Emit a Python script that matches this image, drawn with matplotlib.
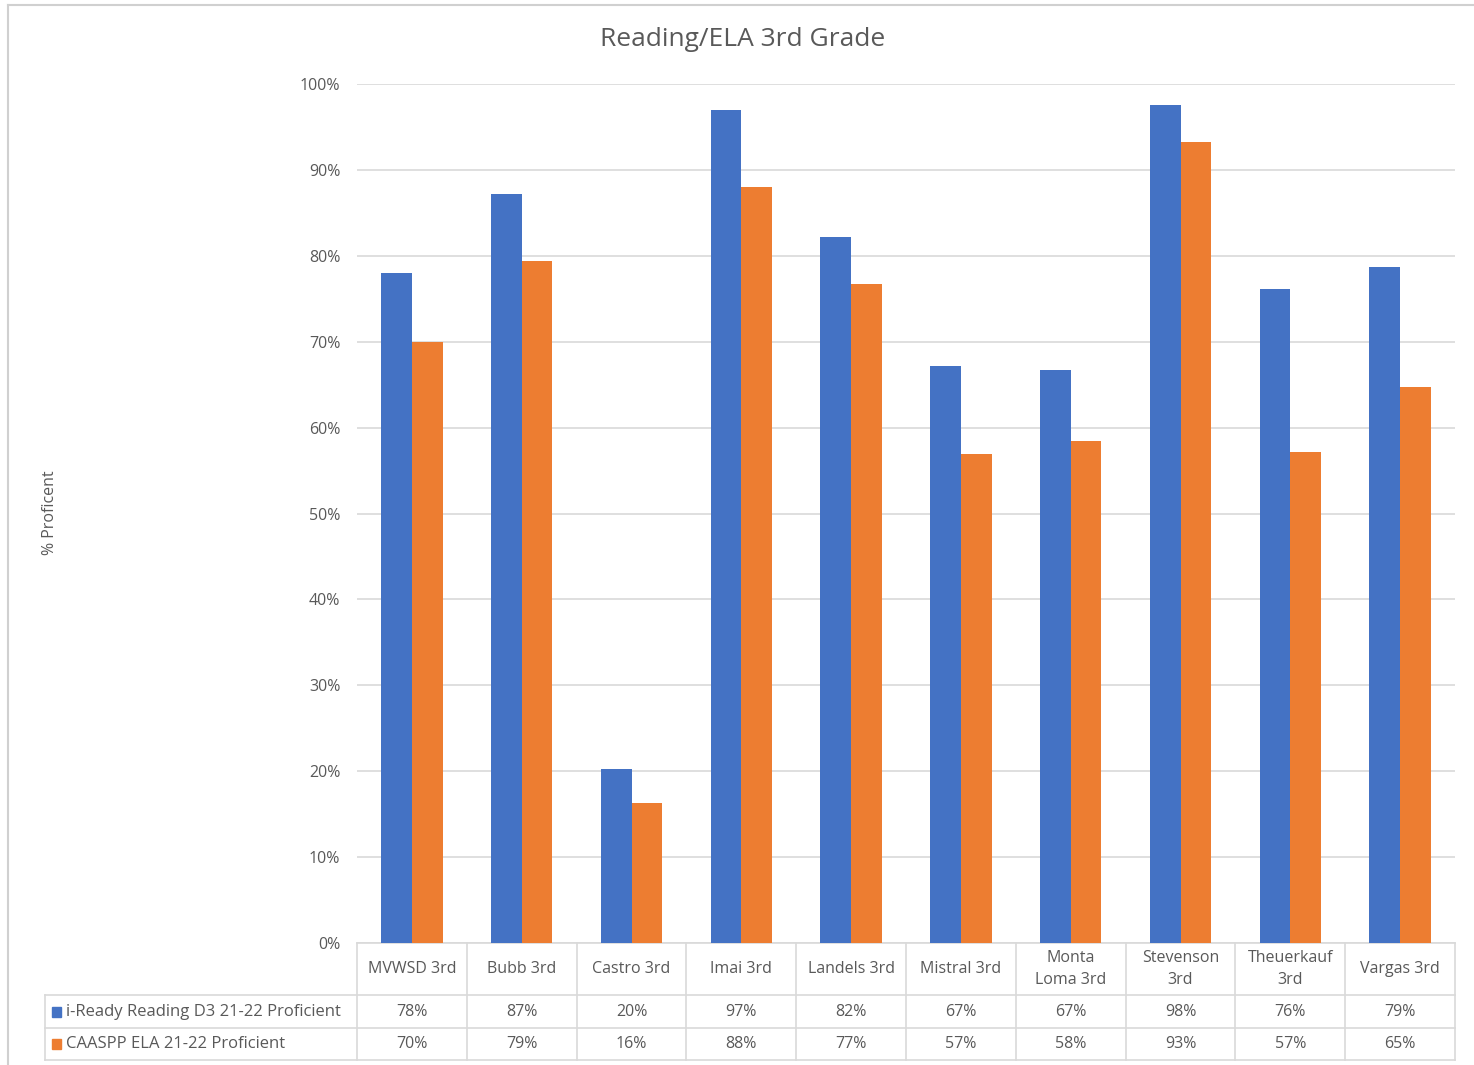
import numpy as np
import matplotlib.pyplot as plt
from matplotlib.transforms import blended_transform_factory
from matplotlib.patches import Rectangle

plt.rcParams['font.family'] = ['Open Sans', 'DejaVu Sans']

schools = ['MVWSD 3rd', 'Bubb 3rd', 'Castro 3rd', 'Imai 3rd', 'Landels 3rd',
           'Mistral 3rd', 'Monta\nLoma 3rd', 'Stevenson\n3rd', 'Theuerkauf\n3rd', 'Vargas 3rd']
iready = [78.0, 87.2, 20.3, 97.0, 82.2, 67.2, 66.7, 97.6, 76.1, 78.7]
caaspp = [70.0, 79.4, 16.3, 88.0, 76.7, 56.9, 58.4, 93.2, 57.2, 64.7]
series_names = ['i-Ready Reading D3 21-22 Proficient', 'CAASPP ELA 21-22 Proficient']
colors = ['#4472C4', '#ED7D31']
yticks = np.arange(0, 101, 10)

W, H = 1474, 1065
fig = plt.figure(figsize=(W / 100, H / 100), dpi=100)
ax = fig.add_axes([357 / W, (H - 943) / H, (1455 - 357) / W, (943 - 84) / H])

x = np.arange(len(schools))
bw = 0.28
ax.bar(x - bw / 2, iready, bw, color=colors[0], zorder=3)
ax.bar(x + bw / 2, caaspp, bw, color=colors[1], zorder=3)

ax.set_xlim(-0.5, len(schools) - 0.5)
ax.set_ylim(0, 100)
ax.set_yticks(yticks)
ax.set_yticklabels([f'{v}%' for v in yticks])
ax.tick_params(axis='y', length=0, pad=12, labelsize=11.5, labelcolor='#595959')
ax.set_xticks([])
ax.grid(axis='y', color='#d9d9d9', linewidth=1.2, zorder=0)
for s in ax.spines.values():
    s.set_visible(False)

fig.text(743 / W, 1 - 40 / H, 'Reading/ELA 3rd Grade', ha='center', va='center',
         fontsize=19, color='#595959')
fig.text(50 / W, 1 - 513 / H, '% Proficent', rotation=90, ha='center', va='center',
         fontsize=11.5, color='#595959')

# data table under the axis
tr = blended_transform_factory(ax.transData, ax.transAxes)
px = 1 / (943 - 84)
y_head = -52 * px
y_r1 = -85 * px
y_r2 = -117 * px
left = -0.5 - 312 / 109.8
lc = '#d9d9d9'
kw = dict(transform=tr, clip_on=False, color=lc, linewidth=1.2)
ax.plot([-0.5, len(schools) - 0.5], [0, 0], **kw)
for yy in [y_head, y_r1, y_r2]:
    ax.plot([left, len(schools) - 0.5], [yy, yy], **kw)
for b in np.arange(-0.5, len(schools), 1.0):
    ax.plot([b, b], [0, y_r2], **kw)
ax.plot([left, left], [y_head, y_r2], **kw)

tc = '#595959'
for i, name in enumerate(schools):
    ax.text(i, y_head / 2, name, transform=tr, ha='center', va='center',
            fontsize=11.5, color=tc, linespacing=1.55)
    ax.text(i, (y_head + y_r1) / 2, f'{round(iready[i])}%', transform=tr,
            ha='center', va='center', fontsize=11.5, color=tc)
    ax.text(i, (y_r1 + y_r2) / 2, f'{round(caaspp[i])}%', transform=tr,
            ha='center', va='center', fontsize=11.5, color=tc)

for k, (yy0, yy1) in enumerate([(y_head, y_r1), (y_r1, y_r2)]):
    ym = (yy0 + yy1) / 2
    ax.add_patch(Rectangle((left + 0.06, ym - 5 * px), 0.085, 10 * px, transform=tr,
                           clip_on=False, color=colors[k]))
    ax.text(left + 0.19, ym, series_names[k], transform=tr, ha='left', va='center',
            fontsize=12, color=tc)

# outer chart border
fig.add_artist(plt.Line2D([8 / W, 1], [1 - 5 / H, 1 - 5 / H], transform=fig.transFigure,
                          color='#d0d0d0', linewidth=1.5))
fig.add_artist(plt.Line2D([8 / W, 8 / W], [0, 1 - 5 / H], transform=fig.transFigure,
                          color='#d0d0d0', linewidth=1.5))

fig.savefig('out.png', dpi=100)
